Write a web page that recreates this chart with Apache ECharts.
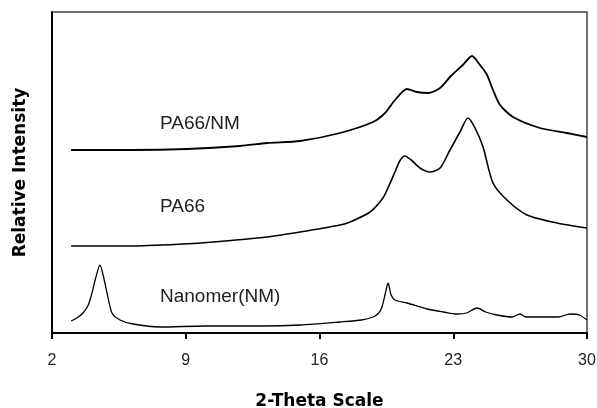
<!DOCTYPE html>
<html>
<head>
<meta charset="utf-8">
<script src="https://cdn.jsdelivr.net/npm/echarts@6/dist/echarts.min.js"></script>
<style>
  html, body { margin: 0; padding: 0; background: #fff; }
  #chart { width: 597px; height: 408px; }
</style>
</head>
<body>
<div id="chart"></div>
<script>
// x-ray diffraction traces, 2-theta (deg) vs. relative intensity (arb. units)
var xTicks = [2, 9, 16, 23, 30]

var nmTheta = [3.0, 3.3, 3.62, 3.9, 4.09, 4.3, 4.51, 4.7, 4.88, 5.14, 5.56, 6.24, 7.65, 10, 13, 15,
  17.07, 18.2, 18.8, 19.1, 19.27, 19.45, 19.59, 19.75, 19.95, 20.58, 21.63, 22.5, 23.2, 23.7,
  24.24, 24.7, 25.29, 26.07, 26.49, 26.8, 27.54, 28.5, 29.11, 29.6, 30]
var nmIntensity = [12, 15, 20, 28, 40, 56, 68, 56, 40, 20, 13, 9, 6, 7, 7, 8,
  11, 13, 16, 20, 26, 40, 50, 38, 33, 30, 24, 21, 19, 20,
  25, 21, 18, 16, 19, 16, 16, 16, 19, 18, 13]

var pa66Theta = [3.0, 6.08, 8.86, 10.43, 13.25, 14.98, 17.07, 17.6, 18.64, 19.32, 19.65, 19.95, 20.2,
  20.47, 20.8, 21.26, 21.78, 22.31, 22.83, 23.35, 23.77, 24.14, 24.56, 25.08, 25.81, 26.86, 28.43, 30]
var pa66Intensity = [87, 87, 89, 91, 96, 101, 108, 111, 121, 135, 148, 161, 172,
  177, 173, 165, 161, 165, 183, 201, 215, 205, 186, 150, 133, 118, 110, 105]

var blendTheta = [3.0, 6.24, 9.07, 11.84, 13.25, 14.98, 17.07, 18.8, 19.43, 19.95, 20.58, 21.1, 21.68,
  22.31, 22.83, 23.5, 23.98, 24.4, 24.77, 25.08, 25.45, 26.13, 27.54, 28.95, 30]
var blendIntensity = [183, 183, 184, 187, 190, 192, 200, 211, 220, 233, 244, 241, 240,
  245, 256, 268, 277, 268, 258, 243, 228, 216, 205, 200, 196]

var seriesNames = ['PA66/NM', 'PA66', 'Nanomer(NM)']

function zip(xs, ys) {
  return xs.map(function (x, i) { return [x, ys[i]] })
}

function trace(name, xs, ys, width) {
  return {
    name: name,
    type: 'line',
    data: zip(xs, ys),
    showSymbol: false,
    symbol: 'none',
    smooth: 0.25,
    animation: false,
    lineStyle: { color: '#000', width: width }
  }
}

var chart = echarts.init(document.getElementById('chart'))
var labelStyle = { fill: '#222', fontSize: 19, fontFamily: 'Liberation Sans, Arial, sans-serif' }

chart.setOption({
  backgroundColor: '#fff',
  grid: {
    left: 52,
    right: 10,
    top: 12,
    bottom: 75,
    containLabel: false,
    outerBoundsMode: 'none',
    show: true,
    borderColor: '#444',
    borderWidth: 1.5
  },
  xAxis: {
    type: 'value',
    min: xTicks[0],
    max: xTicks[xTicks.length - 1],
    interval: 7,
    name: '2-Theta Scale',
    nameLocation: 'middle',
    nameGap: 60,
    nameTextStyle: { color: '#000', fontSize: 17, fontWeight: 'bold', fontFamily: 'DejaVu Sans' },
    axisLine: { lineStyle: { color: '#000', width: 2 } },
    axisTick: { show: true, length: 6, lineStyle: { color: '#000', width: 2 } },
    axisLabel: { color: '#222', fontSize: 16, margin: 20, fontFamily: 'Liberation Sans, Arial, sans-serif' },
    splitLine: { show: false }
  },
  yAxis: {
    type: 'value',
    min: 0,
    max: 321,
    name: 'Relative Intensity',
    nameLocation: 'middle',
    nameGap: 23,
    nameTextStyle: { color: '#000', fontSize: 17, fontWeight: 'bold', fontFamily: 'DejaVu Sans' },
    axisLine: { show: true, lineStyle: { color: '#000', width: 2 } },
    axisTick: { show: false },
    axisLabel: { show: false },
    splitLine: { show: false }
  },
  graphic: [
    { type: 'text', left: 160, top: 114, style: Object.assign({ text: seriesNames[0] }, labelStyle) },
    { type: 'text', left: 160, top: 197, style: Object.assign({ text: seriesNames[1] }, labelStyle) },
    { type: 'text', left: 160, top: 287, style: Object.assign({ text: seriesNames[2] }, labelStyle) }
  ],
  series: [
    trace(seriesNames[0], blendTheta, blendIntensity, 1.8),
    trace(seriesNames[1], pa66Theta, pa66Intensity, 1.6),
    trace(seriesNames[2], nmTheta, nmIntensity, 1.3)
  ]
})
</script>
</body>
</html>
